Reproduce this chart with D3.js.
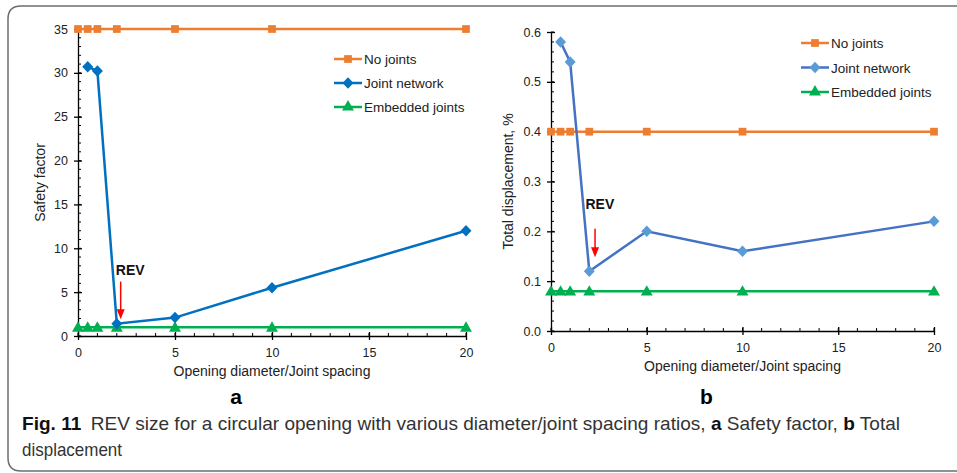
<!DOCTYPE html>
<html>
<head>
<meta charset="utf-8">
<script src="https://cdn.jsdelivr.net/npm/d3@7"></script>
<style>
  body { margin: 0; background: #fff; }
  svg text { font-family: Arial, "Liberation Sans", sans-serif; }
</style>
</head>
<body>
<div id="chart"></div>
<script>
// x values (opening diameter / joint spacing)
var xAll = [0, 0.5, 1, 2, 5, 10, 20];
var xNet = [0.5, 1, 2, 5, 10, 20];

// panel a - safety factor
var sfNoJoints = [35, 35, 35, 35, 35, 35, 35];
var sfNetwork = [30.7, 30.2, 1.4, 2.1, 5.5, 12];
var sfEmbedded = [1, 1, 1, 1, 1, 1, 1];

// panel b - total displacement %
var tdNoJoints = [0.4, 0.4, 0.4, 0.4, 0.4, 0.4, 0.4];
var tdNetwork = [0.58, 0.54, 0.12, 0.2, 0.16, 0.22];
var tdEmbedded = [0.08, 0.08, 0.08, 0.08, 0.08, 0.08, 0.08];

var xTicks = [0, 5, 10, 15, 20];
var sfTicks = [0, 5, 10, 15, 20, 25, 30, 35];
var tdTicks = [0, 0.1, 0.2, 0.3, 0.4, 0.5, 0.6];
var seriesNames = ["No joints", "Joint network", "Embedded joints"];

var width = 957, height = 473;
var svg = d3.select("#chart").append("svg")
  .attr("width", width)
  .attr("height", height);

// rounded frame
svg.append("path")
  .attr("d", "M960,6 L21,6 Q8,6 8,19 L8,458 Q8,471 21,471 L960,471")
  .attr("fill", "none")
  .attr("stroke", "#6d6d6d")
  .attr("stroke-width", 1.5);

// excel-like diamond (wider than d3's)
var diamond = {
  draw: function(ctx, size) {
    var r = Math.sqrt(size / 2);
    ctx.moveTo(0, -r * 1.05);
    ctx.lineTo(r, 0);
    ctx.lineTo(0, r * 1.05);
    ctx.lineTo(-r, 0);
    ctx.closePath();
  }
};

function panel(opt) {
  var x = d3.scaleLinear().domain([0, 20]).range([opt.x0, opt.x1]);
  var y = d3.scaleLinear().domain([0, opt.ymax]).range([opt.y0, opt.y1]);
  var g = svg.append("g");

  // minor ticks
  g.selectAll(".ymin").data(d3.range(0, opt.ymax + 1e-9, opt.yminor)).enter()
    .append("line")
    .attr("x1", opt.x0).attr("x2", opt.x0 + 3)
    .attr("y1", function(d){ return y(d); }).attr("y2", function(d){ return y(d); })
    .attr("stroke", "#000").attr("stroke-width", 1);
  g.selectAll(".xmin").data(d3.range(0, 21, 1)).enter()
    .append("line")
    .attr("y1", opt.y0).attr("y2", opt.y0 - 3)
    .attr("x1", function(d){ return x(d); }).attr("x2", function(d){ return x(d); })
    .attr("stroke", "#000").attr("stroke-width", 1);

  // axes
  var yAxis = d3.axisLeft(y).tickValues(opt.yticks).tickFormat(opt.yfmt).tickSizeInner(4).tickSizeOuter(0).tickPadding(6);
  var ga = g.append("g").attr("transform", "translate(" + opt.x0 + ",0)").call(yAxis);
  var xAxis = d3.axisBottom(x).tickValues(xTicks).tickSizeInner(4).tickSizeOuter(0).tickPadding(8);
  var gb = g.append("g").attr("transform", "translate(0," + opt.y0 + ")").call(xAxis);
  [ga, gb].forEach(function(a){
    a.select(".domain").attr("stroke", "#000").attr("stroke-width", 1.3);
    a.selectAll(".tick line").attr("stroke", "#000").attr("stroke-width", 1.3);
    a.selectAll("text").attr("font-size", 12.5).attr("fill", "#222");
  });
  ga.selectAll(".tick line").attr("x2", 4).attr("x1", -4);
  gb.selectAll(".tick line").attr("y1", -4).attr("y2", 4);

  g.append("text")
    .attr("transform", "translate(" + opt.ytitleX + "," + ((opt.y0 + opt.y1) / 2) + ") rotate(-90)")
    .attr("text-anchor", "middle")
    .attr("font-size", 14).attr("fill", "#222")
    .text(opt.ytitle);
  g.append("text")
    .attr("x", (opt.x0 + opt.x1) / 2).attr("y", opt.y0 + 40)
    .attr("text-anchor", "middle").attr("font-size", 14).attr("fill", "#222")
    .text("Opening diameter/Joint spacing");
  g.append("text")
    .attr("x", (opt.x0 + opt.x1) / 2 - 36).attr("y", opt.labelY)
    .attr("text-anchor", "middle").attr("font-size", 21).attr("font-weight", "bold")
    .text(opt.label);

  var line = d3.line().x(function(d){ return x(d[0]); }).y(function(d){ return y(d[1]); });
  var series = [
    { xs: xAll, ys: opt.noJoints, color: "#ED7D31", mcolor: "#ED7D31", sym: d3.symbolSquare, size: 60 },
    { xs: xNet, ys: opt.network, color: opt.netColor, mcolor: opt.netMarker, sym: diamond, size: 60 },
    { xs: xAll, ys: opt.embedded, color: "#00B050", mcolor: "#00B050", sym: d3.symbolTriangle, size: 62 }
  ];
  // draw order: no joints, embedded, network on top
  [0, 2, 1].forEach(function(k){
    var s = series[k];
    var pts = s.xs.map(function(v, i){ return [v, s.ys[i]]; });
    g.append("path").datum(pts).attr("d", line)
      .attr("fill", "none").attr("stroke", s.color).attr("stroke-width", 2.5);
    g.selectAll(".m" + k).data(pts).enter().append("path")
      .attr("d", d3.symbol().type(s.sym).size(s.size))
      .attr("transform", function(d){
        var dy = s.sym === d3.symbolTriangle ? 1 : 0;
        return "translate(" + x(d[0]) + "," + (y(d[1]) + dy) + ")";
      })
      .attr("fill", s.mcolor);
  });

  // legend
  series.forEach(function(s, i){
    var ly = opt.legY + i * opt.legStep;
    g.append("line").attr("x1", opt.legX).attr("x2", opt.legX + 28)
      .attr("y1", ly).attr("y2", ly).attr("stroke", s.color).attr("stroke-width", 2.5);
    g.append("path").attr("d", d3.symbol().type(s.sym).size(s.size))
      .attr("transform", "translate(" + (opt.legX + 14) + "," + ly + ")").attr("fill", s.mcolor);
    g.append("text").attr("x", opt.legX + 30).attr("y", ly + 5)
      .attr("font-size", 13.5).attr("fill", "#222").text(seriesNames[i]);
  });

  // REV annotation
  g.append("text").attr("x", x(opt.rev[0])).attr("y", y(opt.rev[1]))
    .attr("font-family", "'Open Sans', sans-serif").attr("font-weight", "bold")
    .attr("font-size", 14).attr("fill", "#111").text("REV");
  var ax = x(opt.arrow[0]), ay1 = y(opt.arrow[1]), ay2 = y(opt.arrow[2]);
  g.append("line").attr("x1", ax).attr("x2", ax).attr("y1", ay1).attr("y2", ay2 - 8)
    .attr("stroke", "#f00").attr("stroke-width", 1.5);
  g.append("path").attr("d", "M" + (ax - 4) + "," + (ay2 - 10) + " L" + (ax + 4) + "," + (ay2 - 10) + " L" + ax + "," + ay2 + "Z")
    .attr("fill", "#f00");
}

panel({
  x0: 78, x1: 466, y0: 336, y1: 29, ymax: 35, yminor: 1,
  yticks: sfTicks, yfmt: d3.format("d"), ytitle: "Safety factor", ytitleX: 45,
  noJoints: sfNoJoints, network: sfNetwork, embedded: sfEmbedded,
  netColor: "#0070C0", netMarker: "#0070C0",
  legX: 334, legY: 59, legStep: 24, label: "a", labelY: 404,
  rev: [1.95, 7], arrow: [2.2, 6.2, 1.9]
});

panel({
  x0: 551, x1: 934, y0: 331, y1: 32, ymax: 0.6, yminor: 0.02,
  yticks: tdTicks, yfmt: d3.format(".1f"), ytitle: "Total displacement, %", ytitleX: 513,
  noJoints: tdNoJoints, network: tdNetwork, embedded: tdEmbedded,
  netColor: "#4472C4", netMarker: "#5B9BD5",
  legX: 801, legY: 43, legStep: 24.5, label: "b", labelY: 404,
  rev: [1.8, 0.245], arrow: [2.3, 0.205, 0.148]
});

// caption
var capFont = "'Liberation Sans Narrow', 'DejaVu Sans Condensed', sans-serif";
var cap = svg.append("text").attr("x", 22).attr("y", 430)
  .attr("font-family", capFont)
  .attr("font-size", 19).attr("fill", "#333")
  .attr("textLength", 878).attr("lengthAdjust", "spacingAndGlyphs");
cap.append("tspan").attr("font-weight", "bold").attr("fill", "#111").text("Fig. 11");
cap.append("tspan").text("\u2002REV size for a circular opening with various diameter/joint spacing ratios, ");
cap.append("tspan").attr("font-weight", "bold").attr("fill", "#111").text("a");
cap.append("tspan").text(" Safety factor, ");
cap.append("tspan").attr("font-weight", "bold").attr("fill", "#111").text("b");
cap.append("tspan").text(" Total");
svg.append("text").attr("x", 22).attr("y", 456)
  .attr("font-family", capFont)
  .attr("font-size", 19).attr("fill", "#333")
  .attr("textLength", 100).attr("lengthAdjust", "spacingAndGlyphs")
  .text("displacement");
</script>
</body>
</html>
